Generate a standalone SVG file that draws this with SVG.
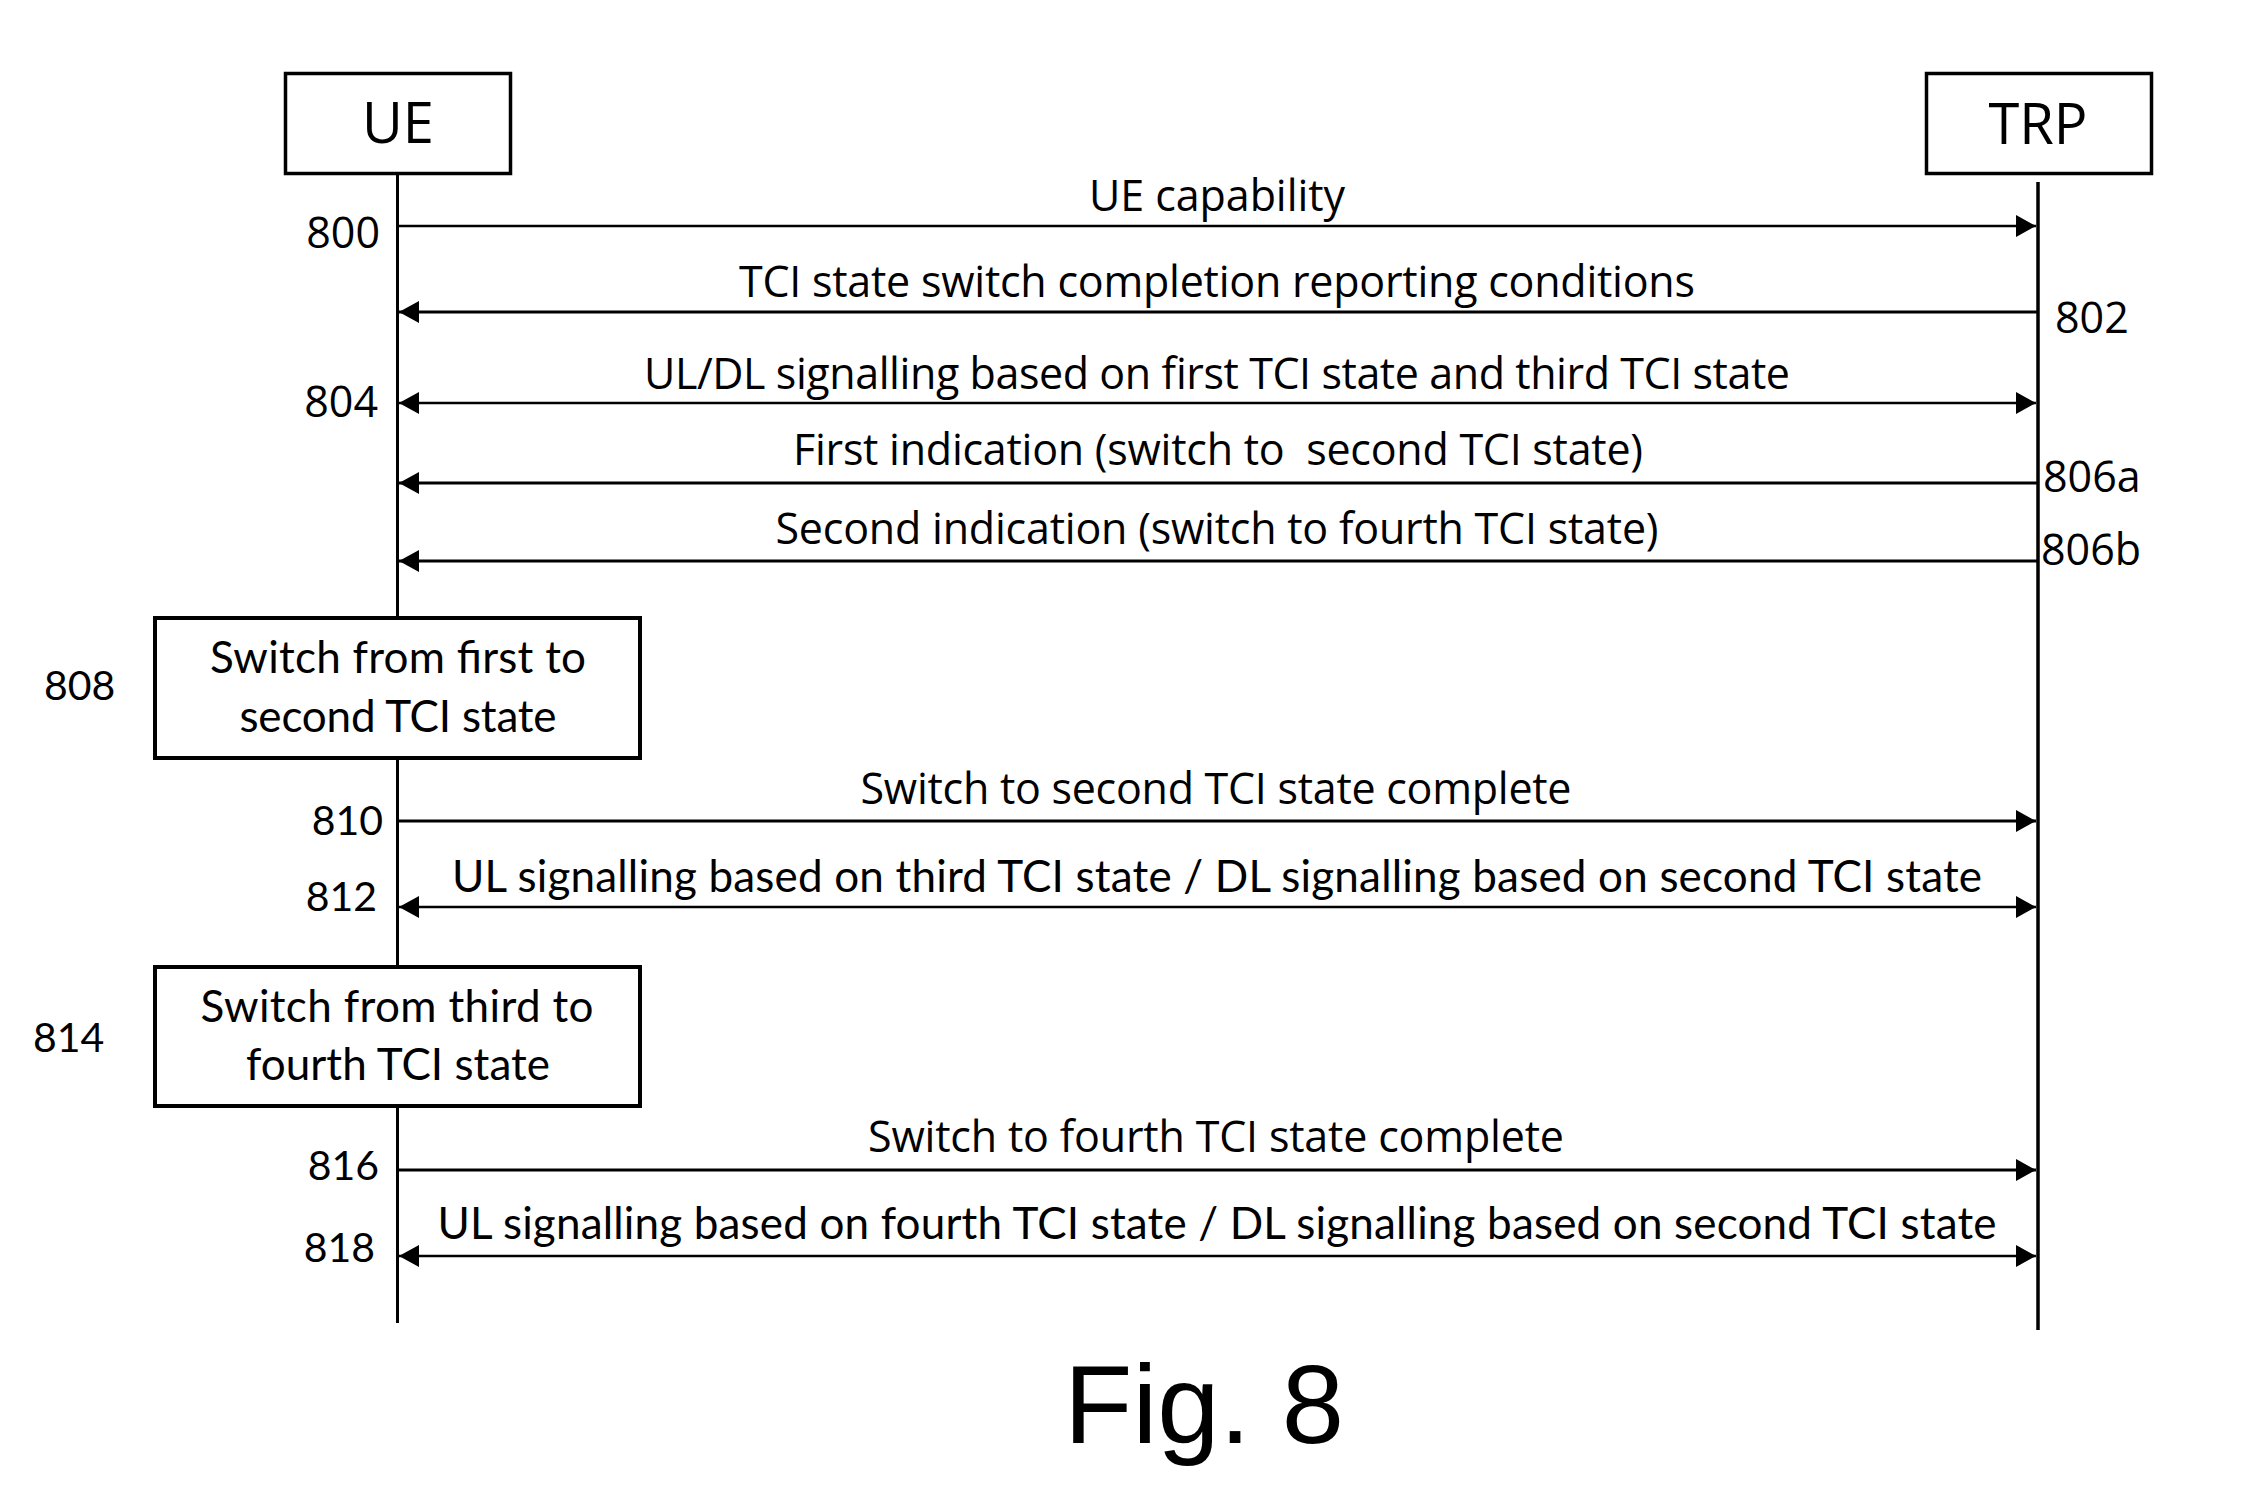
<svg xmlns="http://www.w3.org/2000/svg" width="2265" height="1497" viewBox="0 0 2265 1497">
<style>
.bg{fill:#fff}
.box{fill:#fff;stroke:#000;stroke-width:3.5}
.pbox{fill:#fff;stroke:#000;stroke-width:4}
.life{stroke:#000;stroke-width:3;fill:none}
.lifeT{stroke:#000;stroke-width:3.5;fill:none}
.msg{stroke:#000;stroke-width:3;fill:none}
.msgt{stroke:#000;stroke-width:2.5;fill:none}
.hd{font-family:"Open Sans","Noto Sans",sans-serif;font-size:56px;text-anchor:middle;fill:#000}
.ms{font-family:"Open Sans","Noto Sans",sans-serif;font-size:43px;text-anchor:middle;fill:#000}
.mc{font-family:Lato,"Open Sans",sans-serif;font-size:44px;text-anchor:middle;fill:#000}
.bt{font-family:Lato,"Open Sans",sans-serif;font-size:44px;text-anchor:middle;fill:#000}
.ls{font-family:"Open Sans","Noto Sans",sans-serif;font-size:43px;fill:#000}
.lc{font-family:Lato,"Open Sans",sans-serif;font-size:41px;fill:#000}
.fig{font-family:"Liberation Sans",Arial,sans-serif;font-size:112px;fill:#000}
</style>
<defs>
<marker id="ah" markerUnits="userSpaceOnUse" markerWidth="21" markerHeight="22" refX="20" refY="11" orient="auto-start-reverse" viewBox="0 0 21 22">
<path d="M0,0 L20,11 L0,22 z" fill="#000"/>
</marker>
</defs>
<rect class="bg" x="0" y="0" width="2265" height="1497"/>

<g id="lifelines">
<line class="life" x1="397.5" y1="175" x2="397.5" y2="616"/>
<line class="life" x1="397.5" y1="760" x2="397.5" y2="965"/>
<line class="life" x1="397.5" y1="1108" x2="397.5" y2="1323"/>
<line class="lifeT" x1="2038" y1="182" x2="2038" y2="1330"/>
</g>

<g id="node-ue">
<rect class="box" x="285.5" y="73.5" width="225" height="100"/>
<text class="hd" x="398" y="143">UE</text>
</g>
<g id="node-trp">
<rect class="box" x="1926.5" y="73.5" width="225" height="100"/>
<text class="hd" x="2038" y="144">TRP</text>
</g>

<g id="node-808">
<rect class="pbox" x="155" y="618" width="485" height="140"/>
<text class="bt" x="398" y="673" textLength="376">Switch from first to</text>
<text class="bt" x="398" y="732" textLength="317">second TCI state</text>
</g>
<g id="node-814">
<rect class="pbox" x="155" y="967" width="485" height="139"/>
<text class="bt" x="397" y="1022" textLength="393">Switch from third to</text>
<text class="bt" x="398" y="1080" textLength="304">fourth TCI state</text>
</g>

<g id="connectors">
<line class="msgt" x1="397" y1="226" x2="2036" y2="226" marker-end="url(#ah)"/>
<line class="msg" x1="2038" y1="312" x2="399" y2="312" marker-end="url(#ah)"/>
<line class="msgt" x1="399" y1="403" x2="2036" y2="403" marker-start="url(#ah)" marker-end="url(#ah)"/>
<line class="msg" x1="2038" y1="483" x2="399" y2="483" marker-end="url(#ah)"/>
<line class="msg" x1="2038" y1="561" x2="399" y2="561" marker-end="url(#ah)"/>
<line class="msg" x1="397" y1="821" x2="2036" y2="821" marker-end="url(#ah)"/>
<line class="msgt" x1="399" y1="907" x2="2036" y2="907" marker-start="url(#ah)" marker-end="url(#ah)"/>
<line class="msg" x1="397" y1="1170" x2="2036" y2="1170" marker-end="url(#ah)"/>
<line class="msgt" x1="399" y1="1256" x2="2036" y2="1256" marker-start="url(#ah)" marker-end="url(#ah)"/>
</g>

<g id="message-labels">
<text class="ms" x="1217" y="211" textLength="256">UE capability</text>
<text class="ms" x="1217" y="297" textLength="956">TCI state switch completion reporting conditions</text>
<text class="ms" x="1217" y="389" textLength="1146">UL/DL signalling based on first TCI state and third TCI state</text>
<text class="ms" x="1218" y="465" textLength="850" xml:space="preserve" style="white-space:pre">First indication (switch to  second TCI state)</text>
<text class="ms" x="1217" y="544" textLength="883">Second indication (switch to fourth TCI state)</text>
<text class="ms" x="1216" y="804" textLength="711">Switch to second TCI state complete</text>
<text class="mc" x="1217" y="892" textLength="1530">UL signalling based on third TCI state / DL signalling based on second TCI state</text>
<text class="ms" x="1216" y="1152" textLength="696">Switch to fourth TCI state complete</text>
<text class="mc" x="1217" y="1239" textLength="1559">UL signalling based on fourth TCI state / DL signalling based on second TCI state</text>
</g>

<g id="step-numbers">
<text class="ls" x="380" y="248" text-anchor="end">800</text>
<text class="ls" x="2055" y="333">802</text>
<text class="ls" x="378" y="417" text-anchor="end">804</text>
<text class="ls" x="2043" y="492">806a</text>
<text class="ls" x="2041" y="565">806b</text>
<text class="lc" x="44" y="700">808</text>
<text class="lc" x="383" y="835" text-anchor="end">810</text>
<text class="lc" x="377" y="911" text-anchor="end">812</text>
<text class="lc" x="33" y="1052">814</text>
<text class="lc" x="379" y="1180" text-anchor="end">816</text>
<text class="lc" x="375" y="1262" text-anchor="end">818</text>
</g>

<text class="fig" x="1064" y="1443">Fig. 8</text>
</svg>
